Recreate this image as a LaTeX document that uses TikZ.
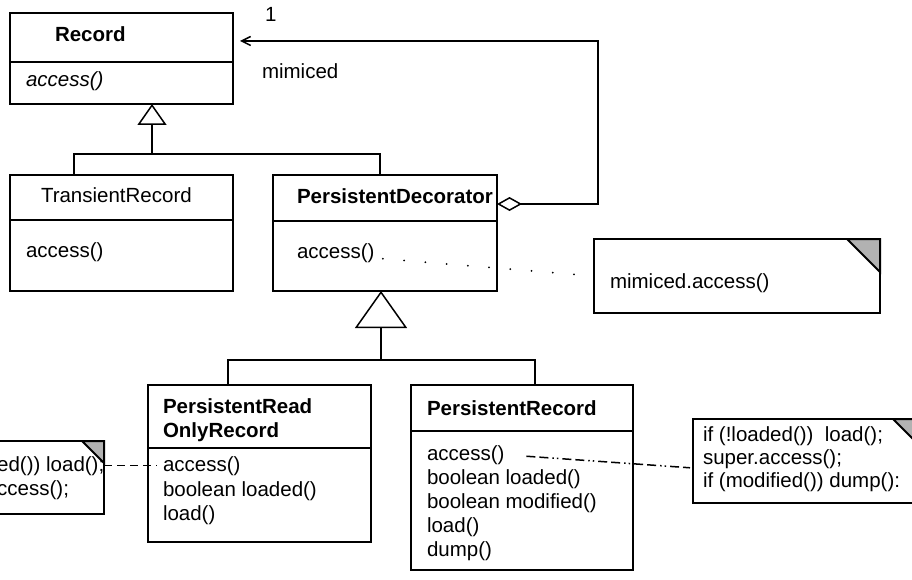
\documentclass[tikz,border=0pt]{standalone}
\usepackage{fontspec}
\setmainfont{Liberation Sans}
\usetikzlibrary{arrows.meta}
\begin{document}
\begin{tikzpicture}[x=1pt,y=-1pt,
  box/.style={draw, line width=2pt, rectangle, anchor=north west, inner sep=0pt, outer sep=0pt},
  divider/.style={line width=2pt},
  txt/.style={anchor=base west, inner sep=0pt, outer sep=0pt, font=\fontsize{20.5}{24}\selectfont},
  btxt/.style={txt, font=\fontsize{20.5}{24}\selectfont\bfseries},
  itxt/.style={txt, font=\fontsize{20.5}{24}\selectfont\itshape},
  conn/.style={line width=1.5pt},
  gensmall/.style={conn, -{Triangle[open, length=21pt, width=29pt]}},
  genbig/.style={conn, -{Triangle[open, length=37pt, width=52pt]}},
  assoc/.style={conn, {Diamond[open, length=25pt, width=14pt]}-{Straight Barb[length=9pt, width=9pt]}},
  corner/.style={fill=gray!60, line width=2pt},
  dotline/.style={line width=2pt, line cap=round, dash pattern=on 0pt off 21.3pt},
  dashline/.style={line width=1.5pt, dash pattern=on 8pt off 5pt on 8pt off 5pt on 8pt off 5pt on 8pt off 5pt on 1.5pt off 10pt},
  dashdot/.style={line width=1.5pt, dash pattern=on 9pt off 4pt on 9pt off 4pt on 1.5pt off 3pt on 1.5pt off 4pt}
]
\useasboundingbox (0,0) rectangle (912,580);
\clip (0,0) rectangle (912,580);
\fill[white] (0,0) rectangle (912,580);

% Record
\node[box, minimum width=223pt, minimum height=91pt] (record) at (10,13) {};
\draw[divider] (record.west |- 0,62) -- (record.east |- 0,62);
\node[btxt] (recordname) at (55,42) {Record};
\node[itxt] (recordop) at (26,87) {access()};

% TransientRecord
\node[box, minimum width=223pt, minimum height=116pt] (transient) at (10,175) {};
\draw[divider] (transient.west |- 0,220) -- (transient.east |- 0,220);
\node[txt] (trname) at (41,202) {TransientRecord};
\node[txt] (tracc) at (26,257) {access()};

% PersistentDecorator
\node[box, minimum width=224pt, minimum height=116pt] (decorator) at (273,175) {};
\draw[divider] (decorator.west |- 0,221) -- (decorator.east |- 0,221);
\node[btxt] (decname) at (297,204) {PersistentDecorator};
\node[txt] (decacc) at (297,258) {access()};

% note mimiced.access()
\node[box, minimum width=286pt, minimum height=74pt] (note1) at (594,239) {};
\filldraw[corner] (note1.north east) -- ++(-33,0) -- ++(33,33) -- cycle;
\node[txt] (n1text) at (610,288) {mimiced.access()};

% PersistentReadOnlyRecord
\node[box, minimum width=223pt, minimum height=157pt] (readonly) at (148,385) {};
\draw[divider] (readonly.west |- 0,448) -- (readonly.east |- 0,448);
\node[btxt] (ro1) at (163,413) {PersistentRead};
\node[btxt] (ro2) at (163,437) {OnlyRecord};
\node[txt] (roacc) at (163,471) {access()};
\node[txt] (roloaded) at (163,496) {boolean loaded()};
\node[txt] (roload) at (163,520) {load()};

% PersistentRecord
\node[box, minimum width=222pt, minimum height=185pt] (precord) at (411,385) {};
\draw[divider] (precord.west |- 0,431) -- (precord.east |- 0,431);
\node[btxt] (prname) at (427,415) {PersistentRecord};
\node[txt] (pracc) at (427,460) {access()};
\node[txt] (prloaded) at (427,484) {boolean loaded()};
\node[txt] (prmod) at (427,508) {boolean modified()};
\node[txt] (prload) at (427,532) {load()};
\node[txt] (prdump) at (427,556) {dump()};

% left note (cut at the left edge, as in the reference)
\node[box, minimum width=200pt, minimum height=73pt] (leftnote) at (-96,441) {};
\node[txt] (ln1) at (-70,471) {if (!loaded()) load();};
\node[txt] (ln2) at (-70,495) {super.access();};
\filldraw[corner] (leftnote.north east) -- ++(-22,0) -- ++(22,22) -- cycle;

% right note (cut at the right edge, as in the reference)
\node[box, minimum width=233pt, minimum height=84pt] (rightnote) at (693,419) {};
\filldraw[corner] (rightnote.north east) -- ++(-33,0) -- ++(33,33) -- cycle;
\node[txt] (rn1) at (703,441) {if (!loaded())\ \ load();};
\node[txt] (rn2) at (703,464) {super.access();};
\node[txt] (rn3) at (703,487) {if (modified()) dump():};

% generalization Record
\coordinate (j1) at (152,154);
\draw[conn] (transient.north -| 74,0) -- (74,154) -- (380,154) -- (decorator.north -| 380,0);
\draw[gensmall] (j1) -- (record.south -| j1);

% generalization PersistentDecorator
\coordinate (j2) at (381,360);
\draw[conn] (readonly.north -| 228,0) -- (228,360) -- (535,360) -- (precord.north -| 535,0);
\draw[genbig] (j2) -- (decorator.south -| j2);

% aggregation / association mimiced
\draw[assoc, shorten >=7pt] (decorator.east |- 0,204) -- (598,204) -- (598,41) -- (record.east |- 0,41);
\node[txt] (mult) at (265,22) {1};
\node[txt] (role) at (262,79) {mimiced};

% note links
\draw[dotline, shorten <=8.5pt, shorten >=18pt] (decacc.base east) -- (note1.west);
\draw[dashline, shorten >=6pt] (leftnote.east |- roacc.east) -- (roacc.west);
\draw[dashdot, shorten <=22pt, shorten >=3pt] (pracc.east) -- ([yshift=-7pt]rightnote.west);
\end{tikzpicture}
\end{document}
